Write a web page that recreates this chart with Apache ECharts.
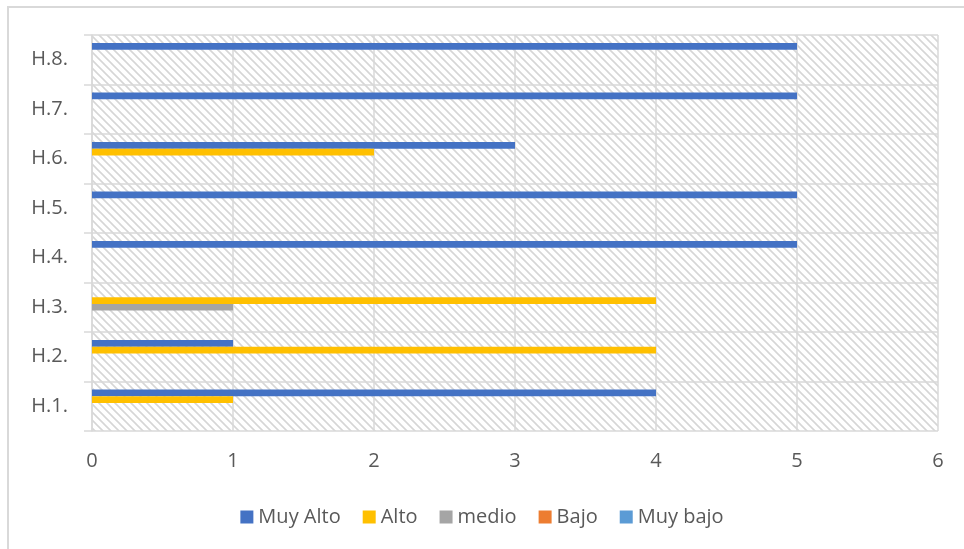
<!DOCTYPE html>
<html>
<head>
<meta charset="utf-8">
<script src="https://cdn.jsdelivr.net/npm/echarts@6/dist/echarts.min.js"></script>
<style>
  html, body { margin: 0; padding: 0; background: #fff; overflow: hidden; }
  #frame { position: absolute; left: 7px; top: 6px; width: 1000px; height: 600px; border: 2px solid #d9d9d9; box-sizing: border-box; }
  #chart { position: absolute; left: 0; top: 0; width: 964px; height: 549px; }
</style>
</head>
<body>
<div id="frame"></div>
<div id="chart"></div>
<script>
const categories = ['H.1.', 'H.2.', 'H.3.', 'H.4.', 'H.5.', 'H.6.', 'H.7.', 'H.8.'];
const seriesNames = ['Muy Alto', 'Alto', 'medio', 'Bajo', 'Muy bajo'];
const muyAlto = [4, 1, 0, 5, 5, 3, 5, 5];
const alto    = [1, 4, 4, 0, 0, 2, 0, 0];
const medio   = [0, 0, 1, 0, 0, 0, 0, 0];
const bajo    = [0, 0, 0, 0, 0, 0, 0, 0];
const muyBajo = [0, 0, 0, 0, 0, 0, 0, 0];
const xTicks = [0, 1, 2, 3, 4, 5, 6];

const colors = ['#4472C4', '#FFC000', '#A5A5A5', '#ED7D31', '#5B9BD5'];
const values = [muyAlto, alto, medio, bajo, muyBajo];

// hatch pattern
const tile = document.createElement('canvas');
tile.width = 8; tile.height = 8;
const g = tile.getContext('2d');
g.fillStyle = '#ffffff';
g.fillRect(0, 0, 8, 8);
g.strokeStyle = '#d6d6d6';
g.lineWidth = 1.6;
g.beginPath();
g.moveTo(-2, -2); g.lineTo(10, 10);
g.moveTo(-10, -2); g.lineTo(2, 10);
g.moveTo(6, -2); g.lineTo(18, 10);
g.stroke();

const font = "'Open Sans', 'Liberation Sans', sans-serif";
const chart = echarts.init(document.getElementById('chart'), null, { renderer: 'canvas' });
chart.setOption({
  animation: false,
  textStyle: { fontFamily: font },
  legend: {
    data: seriesNames,
    bottom: 17,
    left: 'center',
    itemWidth: 13,
    itemHeight: 13,
    itemGap: 22,
    icon: 'rect',
    textStyle: { color: '#595959', fontSize: 20, fontFamily: font }
  },
  grid: {
    left: 92, right: 26, top: 35, bottom: 118,
    show: true,
    borderWidth: 0,
    backgroundColor: { image: tile, repeat: 'repeat' }
  },
  xAxis: {
    type: 'value',
    min: 0, max: 6, interval: 1,
    axisLine: { show: false },
    axisTick: { show: false },
    splitLine: { show: true, lineStyle: { color: '#d9d9d9', width: 1.5 } },
    axisLabel: { color: '#595959', fontSize: 20, margin: 20, fontFamily: font,
      formatter: v => String(xTicks[v] !== undefined ? xTicks[v] : v) }
  },
  yAxis: {
    type: 'category',
    data: categories,
    axisLine: { show: true, lineStyle: { color: '#d9d9d9', width: 1.5 } },
    axisTick: { show: true, length: 8, lineStyle: { color: '#d9d9d9', width: 1.5 } },
    splitLine: { show: true, lineStyle: { color: '#d9d9d9', width: 1.5 } },
    axisLabel: { color: '#595959', fontSize: 20, margin: 24, fontFamily: font }
  },
  series: seriesNames.map((name, i) => ({
    name: name,
    type: 'bar',
    data: values[i],
    barGap: '0%',
    barCategoryGap: '32%',
    itemStyle: { color: colors[i] }
  }))
});
</script>
</body>
</html>
